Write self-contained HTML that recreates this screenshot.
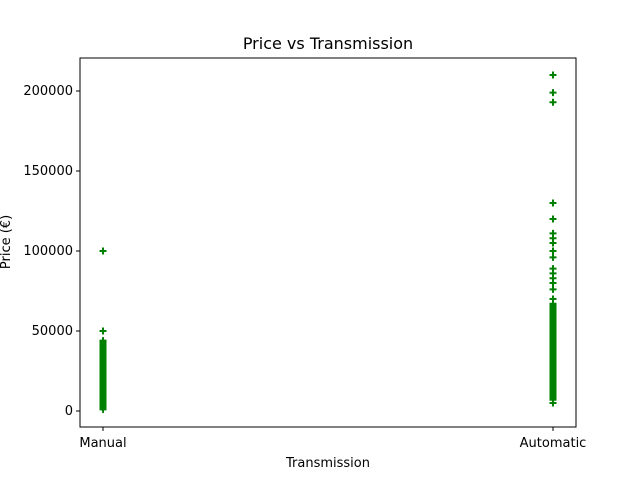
<!DOCTYPE html>
<html><head><meta charset="utf-8"><style>
body{margin:0;background:#fff;font-family:"Liberation Sans","DejaVu Sans",sans-serif}
</style></head><body>
<svg id="c" width="640" height="480" font-family="DejaVu Sans, Liberation Sans, sans-serif">
<rect width="640" height="480" fill="#fff"/>
<text x="328" y="49" text-anchor="middle" font-size="16">Price vs Transmission</text>
<text x="328" y="467" text-anchor="middle" font-size="13">Transmission</text>
<text transform="translate(10,242) rotate(-90)" text-anchor="middle" font-size="13">Price (€)</text>
<g id="marks"></g>
<g id="axes"></g>
</svg>
<script>
const categories = ["Manual","Automatic"];
const manualPrices = [100000,50000,44000,43000,42000,41000,40000,39000,38000,37000,36000,35000,34000,33000,32000,31000,30000,29000,28000,27000,26000,25000,24000,23000,22000,21000,20000,19000,18000,17000,16000,15000,14000,13000,12000,11000,10000,9000,8000,7000,6000,5000,4000,3000,2000,1000];
const automaticPrices = [210000,199000,193000,130000,120000,111000,108000,105000,100000,96000,89000,86000,83000,80000,76000,70000,67000,66000,65000,64000,63000,62000,61000,60000,59000,58000,57000,56000,55000,54000,53000,52000,51000,50000,49000,48000,47000,46000,45000,44000,43000,42000,41000,40000,39000,38000,37000,36000,35000,34000,33000,32000,31000,30000,29000,28000,27000,26000,25000,24000,23000,22000,21000,20000,19000,18000,17000,16000,15000,14000,13000,12000,11000,10000,9000,8000,7000,5000];
const yTicks = [0,50000,100000,150000,200000];
const L=80,R=576,T=58,B=427;
const xScale = i => 103 + i*(553-103);
const yScale = v => 411 - v*1.6/1000;
const NS="http://www.w3.org/2000/svg";
const marks=document.getElementById('marks'), axes=document.getElementById('axes');
function mk(tag,attrs,parent){const e=document.createElementNS(NS,tag);for(const k in attrs)e.setAttribute(k,attrs[k]);parent.appendChild(e);return e;}
[manualPrices,automaticPrices].forEach((arr,ci)=>{
  arr.forEach(v=>{
    const x=xScale(ci),y=yScale(v);
    const p=mk('path',{d:`M${x-3.5},${y}H${x+3.5}M${x},${y-3.5}V${y+3.5}`,stroke:'#008000','stroke-width':2},marks);
    
    
  });
});
const frame=mk('rect',{x:L,y:T,width:R-L,height:B-T,fill:'none',stroke:'#000','stroke-width':1},axes);


yTicks.forEach(t=>{
  const y=yScale(t);
  mk('line',{x1:L-4,x2:L,y1:y,y2:y,stroke:'#000'},axes);
  const tx=mk('text',{x:L-7,y:y+4,'text-anchor':'end','font-size':13},axes);
  tx.textContent=t;
  
  
});
categories.forEach((c,i)=>{
  const x=xScale(i);
  mk('line',{x1:x,x2:x,y1:B,y2:B+4,stroke:'#000'},axes);
  const tx=mk('text',{x:x,y:B+20,'text-anchor':'middle','font-size':13},axes);
  tx.textContent=c;
  
  
});
</script>
</body></html>
